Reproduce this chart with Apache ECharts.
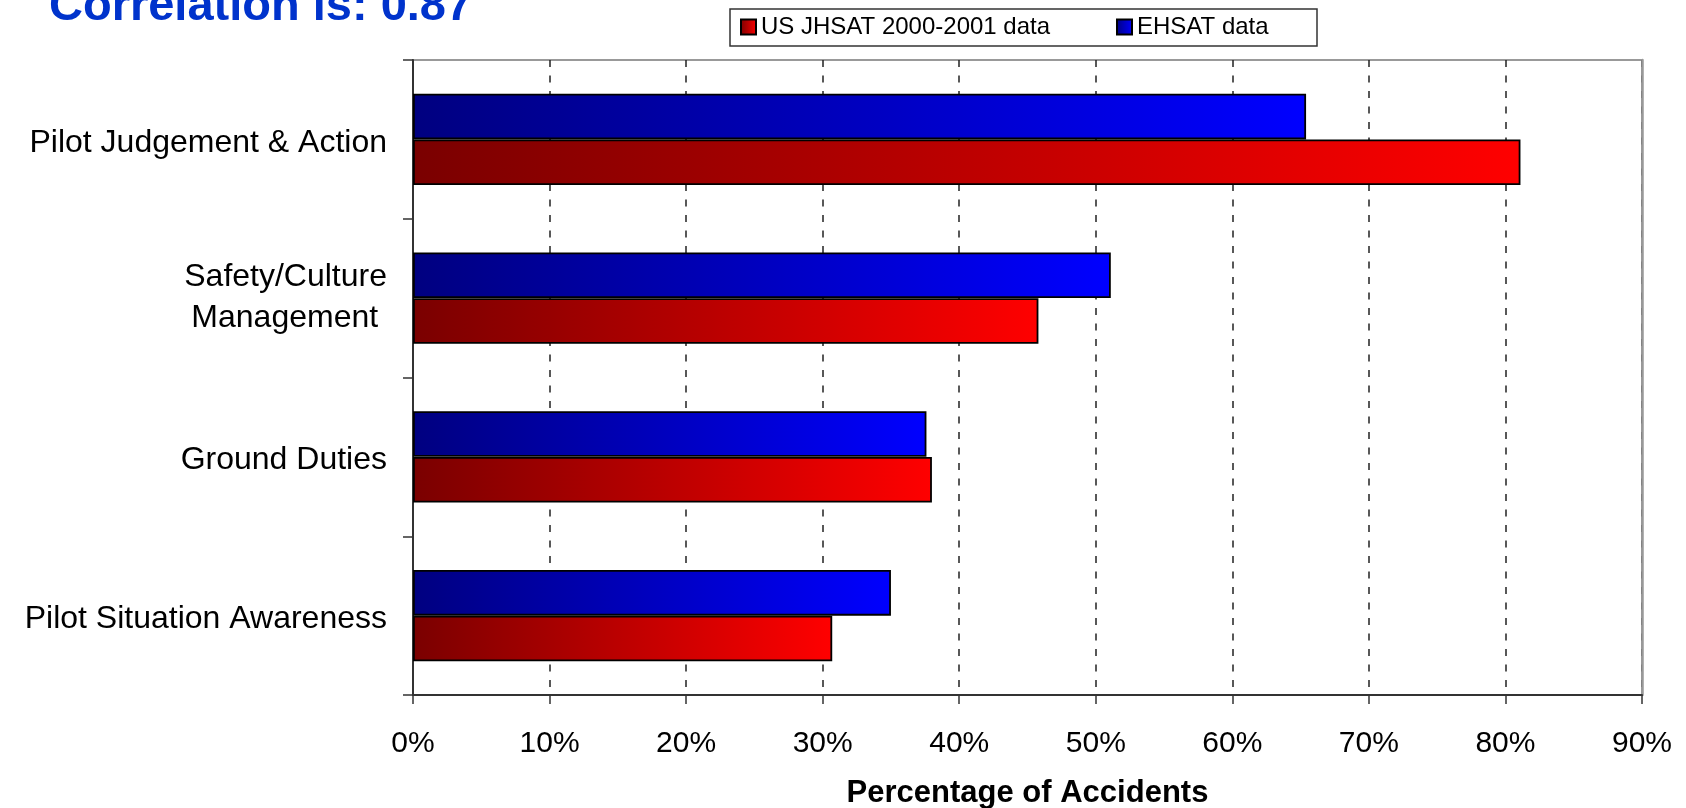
<!DOCTYPE html>
<html>
<head>
<meta charset="utf-8">
<script src="https://cdn.jsdelivr.net/npm/echarts@6/dist/echarts.min.js"></script>
<style>
  html, body { margin: 0; padding: 0; background: #fff; }
  #chart { width: 1686px; height: 808px; }
</style>
</head>
<body>
<div id="chart"></div>
<script>
// ---- data ----
const categories = ['Pilot Judgement & Action', 'Safety/Culture\nManagement ', 'Ground Duties', 'Pilot Situation Awareness'];
const usJhsat = [81.1, 45.8, 38.0, 30.7];
const ehsat = [65.4, 51.1, 37.6, 35.0];
const xTicks = { min: 0, max: 90, interval: 10 };
const seriesNames = ['US JHSAT 2000-2001 data', 'EHSAT data'];

const FONT = 'Liberation Sans, Arial, Helvetica, sans-serif';
const redGrad = new echarts.graphic.LinearGradient(0, 0, 1, 0, [
  { offset: 0, color: '#7a0000' }, { offset: 1, color: '#ff0000' }
]);
const blueGrad = new echarts.graphic.LinearGradient(0, 0, 1, 0, [
  { offset: 0, color: '#000080' }, { offset: 1, color: '#0000ff' }
]);

function legendFor(name, left) {
  return {
    left: left,
    top: 15,
    orient: 'horizontal',
    padding: 0,
    itemWidth: 15,
    itemHeight: 15,
    icon: 'rect',
    z: 10,
    data: [name],
    textStyle: { fontSize: 24, color: '#000', fontFamily: FONT }
  };
}

const chart = echarts.init(document.getElementById('chart'), null, { renderer: 'canvas' });
chart.setOption({
  animation: false,
  backgroundColor: '#fff',
  textStyle: { fontFamily: FONT },
  graphic: [
    {
      type: 'text',
      left: 49,
      top: -16,
      style: {
        text: 'Correlation is: 0.87',
        fill: '#0033cc',
        font: 'bold 47px ' + FONT
      }
    },
    {
      type: 'rect',
      z: 1,
      shape: { x: 730, y: 9, width: 587, height: 37 },
      style: { fill: '#fff', stroke: '#333', lineWidth: 1.5 }
    }
  ],
  legend: [
    legendFor(seriesNames[0], 740),
    legendFor(seriesNames[1], 1116)
  ],
  grid: {
    left: 413,
    right: 44,
    top: 60,
    bottom: 113,
    show: true,
    borderColor: '#999',
    borderWidth: 2,
    containLabel: false,
    outerBoundsMode: 'none'
  },
  xAxis: {
    type: 'value',
    min: xTicks.min,
    max: xTicks.max,
    interval: xTicks.interval,
    axisLabel: {
      formatter: '{value}%',
      fontSize: 30,
      color: '#000',
      margin: 34,
      showMinLabel: true,
      showMaxLabel: true
    },
    axisLine: { show: true, lineStyle: { color: '#333', width: 2 } },
    axisTick: { show: true, length: 9, lineStyle: { color: '#333', width: 1.5 } },
    splitLine: { show: true, lineStyle: { color: '#222', width: 1.5, type: [7, 8.5] } },
    name: 'Percentage of Accidents',
    nameLocation: 'middle',
    nameGap: 83,
    nameTextStyle: { fontSize: 31, fontWeight: 'bold', color: '#000' }
  },
  yAxis: [
    {
      type: 'category',
      data: categories,
      inverse: true,
      axisLabel: {
        color: '#000',
        margin: 26,
        formatter: function (v) {
          const lines = v.split('\n');
          const key = lines.length > 1 ? 'm' : 'l';
          return lines.map(function (s) { return '{' + key + '|' + s + '}'; }).join('\n');
        },
        rich: {
          l: { fontSize: 32, lineHeight: 34, padding: [7, 0, 0, 0], color: '#000', fontFamily: FONT },
          m: { fontSize: 32, lineHeight: 41, color: '#000', fontFamily: FONT }
        }
      },
      axisLine: { show: true, lineStyle: { color: '#333', width: 2 } },
      axisTick: { show: true, length: 10, lineStyle: { color: '#333', width: 1.5 } },
      splitLine: { show: false }
    },
    {
      type: 'category',
      data: categories,
      inverse: true,
      position: 'right',
      axisLabel: { show: false },
      axisLine: { show: true, lineStyle: { color: '#999', width: 2.5 } },
      axisTick: { show: false },
      splitLine: { show: false }
    }
  ],
  series: [
    {
      name: seriesNames[1],
      type: 'bar',
      yAxisIndex: 0,
      data: ehsat,
      barGap: '0%',
      barCategoryGap: '42.4%',
      itemStyle: { color: blueGrad, borderColor: '#000', borderWidth: 1.8 }
    },
    {
      name: seriesNames[0],
      type: 'bar',
      yAxisIndex: 0,
      data: usJhsat,
      barGap: '0%',
      barCategoryGap: '42.4%',
      itemStyle: { color: redGrad, borderColor: '#000', borderWidth: 1.8 }
    }
  ]
});
</script>
</body>
</html>
